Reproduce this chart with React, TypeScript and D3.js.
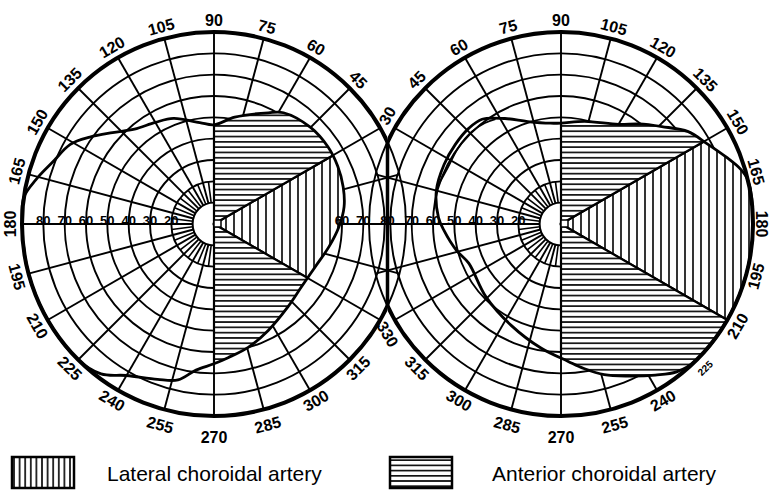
import React, { useEffect, useRef } from "react";
import * as d3 from "d3";

const W = 771;
const H = 490;

// visual field boundaries, [meridian deg, eccentricity deg]
const leftField: [number, number][] = [
  [172, 90], [166, 86], [159, 81], [151, 77], [145, 71], [138, 64], [130, 58],
  [120, 55], [111, 53], [98, 48], [90, 46.5], [79, 51], [64, 58], [58, 61.5],
  [45, 64], [34, 64.5], [25, 64], [16, 63], [7.5, 61.5], [-1.5, 58.5], [-11, 55],
  [-23, 51.5], [-36, 50.5], [-48, 52], [-63, 56], [-74.5, 60], [-84, 63],
  [-90, 65.5], [-97, 69], [-103, 75], [-110, 77.5], [-120, 82], [-127, 88],
  [-135, 90], [-150, 90], [-165, 90], [-180, 90],
];
const rightField: [number, number][] = [
  [3, 57.5], [15, 60.5], [27, 61.5], [37, 62], [46, 62.3], [53, 61.5], [62, 56],
  [72, 50.5], [84, 47.5], [90, 47.3], [103, 49.4], [120, 53.9], [128, 59.5],
  [136, 65.7], [144, 73.7], [151, 78], [158, 83.6], [163, 88], [167, 90],
  [180, 90], [195, 90], [210, 90], [225, 90], [232, 88], [238, 83.5], [246, 78],
  [254, 73.5], [261, 68.6], [267, 64.5], [279, 59], [296, 53], [316, 49],
  [337, 47], [346, 50.6], [357, 55],
];
const rightInner: [number, number][] = [
  [17, 60.5], [26, 59.3], [37, 60], [46, 60.2], [53, 59.3], [58, 58],
];

// sectors [from, to] in meridian degrees
const lateralLeft = [[-30, 30]];
const anteriorLeft = [[30, 90], [270, 330]];
const lateralRight = [[150, 210]];
const anteriorRight = [[90, 150], [210, 270]];

const rings = [10, 20, 30, 40, 50, 60, 70, 80];
const meridianLabels = [30, 45, 60, 75, 90, 105, 120, 135, 150, 165, 180, 195, 210, 225, 240, 255, 270, 285, 300, 315, 330];
const sharedLabels = [30, 330];
const ringLabelsOuter = [20, 30, 40, 50, 60, 70];
const ringLabelsInnerLeft = [60, 70];

const legendItems = [
  { label: "Lateral choroidal artery", pattern: "vhatchL", x: 12, tx: 107 },
  { label: "Anterior choroidal artery", pattern: "hhatchL", x: 390, tx: 492 },
];

const CY = 224;
const R = 192;
const CXL = 214;
const CXR = 561;
const FONT = "'Liberation Sans', Arial, sans-serif";

// per-label radial nudges, as placed in the original
const pushLeft = { 255: 4, 270: 9, 285: 4 };
const pushRight = { 255: 4, 270: 9, 285: 4, 165: -2, 180: -4, 195: -2 };

const App = () => {
  const svgRef = useRef<SVGSVGElement>(null);

  useEffect(() => {
    const svg = d3.select(svgRef.current);
    svg.selectAll("*").remove();

    const r = d3.scaleLinear().domain([0, 90]).range([0, R]);
    const half = (CXR - CXL) / 2;
    const xInt = CXL + half;
    const hInt = Math.sqrt(R * R - half * half);

    const defs = svg.append("defs");
    const pat = (id, w, h, vertical, sw) => {
      const p = defs.append("pattern").attr("id", id).attr("patternUnits", "userSpaceOnUse")
        .attr("width", w).attr("height", h);
      p.append("rect").attr("width", w).attr("height", h).attr("fill", "#fff");
      if (vertical) p.append("line").attr("x1", w / 2).attr("x2", w / 2).attr("y1", 0).attr("y2", h)
        .attr("stroke", "#000").attr("stroke-width", sw);
      else p.append("line").attr("x1", 0).attr("x2", w).attr("y1", h / 2).attr("y2", h / 2)
        .attr("stroke", "#000").attr("stroke-width", sw);
    };
    pat("vhatch", 8, 8, true, 1.6);
    pat("hhatch", 8, 5.3, false, 1.6);
    pat("vhatchL", 5.6, 8, true, 1.6);
    pat("hhatchL", 8, 5.2, false, 1.6);

    defs.append("clipPath").attr("id", "leftSide").append("rect")
      .attr("x", 0).attr("y", 0).attr("width", xInt).attr("height", H);
    defs.append("clipPath").attr("id", "rightSide").append("rect")
      .attr("x", xInt).attr("y", 0).attr("width", W - xInt).attr("height", H);

    const charts = [
      { id: "L", cx: CXL, mirror: false, field: leftField, inner: null, lat: lateralLeft, ant: anteriorLeft, push: pushLeft },
      { id: "R", cx: CXR, mirror: true, field: rightField, inner: rightInner, lat: lateralRight, ant: anteriorRight, push: pushRight },
    ];

    // full horizontal meridian
    svg.append("line").attr("x1", CXL - R).attr("x2", CXR + R).attr("y1", CY).attr("y2", CY)
      .attr("stroke", "#000").attr("stroke-width", 2);

    charts.forEach((c) => {
      const toA = (t) => ((c.mirror ? t - 90 : 90 - t) * Math.PI) / 180;
      const g = svg.append("g").attr("transform", `translate(${c.cx},${CY})`);

      // rings
      g.selectAll(".ring").data([...rings, 90]).join("circle")
        .attr("r", (d) => r(d)).attr("fill", "none").attr("stroke", "#000").attr("stroke-width", 1.9);

      // meridians
      g.selectAll(".sp").data(d3.range(0, 360, 15)).join("line")
        .each(function (d) {
          const [x1, y1] = d3.pointRadial(toA(d), r(10));
          const [x2, y2] = d3.pointRadial(toA(d), r(90));
          d3.select(this).attr("x1", x1).attr("y1", y1).attr("x2", x2).attr("y2", y2);
        })
        .attr("stroke", "#000").attr("stroke-width", 1.9);
      g.selectAll(".sp2").data(d3.range(7.5, 360, 15)).join("line")
        .each(function (d) {
          const [x1, y1] = d3.pointRadial(toA(d), r(10));
          const [x2, y2] = d3.pointRadial(toA(d), r(20));
          d3.select(this).attr("x1", x1).attr("y1", y1).attr("x2", x2).attr("y2", y2);
        })
        .attr("stroke", "#000").attr("stroke-width", 1.6);

      // central hole
      g.append("circle").attr("r", r(10)).attr("fill", "#fff").attr("stroke", "#000").attr("stroke-width", 1.9);

      // hatched sectors inside the field
      const line = d3.lineRadial<[number, number]>()
        .angle((d) => toA(d[0])).radius((d) => r(d[1]))
        .curve(d3.curveCatmullRomClosed.alpha(0.5));
      defs.append("clipPath").attr("id", "field" + c.id).append("path").attr("d", line(c.field));

      const arc = d3.arc().innerRadius(0).outerRadius(r(90));
      const hg = g.append("g").attr("clip-path", `url(#field${c.id})`);
      const sectors = [
        ...c.lat.map((s) => ({ s, p: "vhatch" })),
        ...c.ant.map((s) => ({ s, p: "hhatch" })),
      ];
      hg.selectAll("path").data(sectors).join("path")
        .attr("d", (d) => arc({ startAngle: toA(d.s[0]), endAngle: toA(d.s[1]) } as any))
        .attr("fill", (d) => `url(#${d.p})`).attr("stroke", "#000").attr("stroke-width", 2.2);

      // center mark
      g.append("rect").attr("x", 0).attr("y", -4).attr("width", 7).attr("height", 7)
        .attr("fill", "#fff").attr("stroke", "#000").attr("stroke-width", 1.5);

      // field boundary
      g.append("path").attr("d", line(c.field)).attr("fill", "none")
        .attr("stroke", "#000").attr("stroke-width", 2.8);
      if (c.inner) {
        const open = d3.lineRadial<[number, number]>()
          .angle((d) => toA(d[0])).radius((d) => r(d[1])).curve(d3.curveCatmullRom);
        g.append("path").attr("d", open(c.inner)).attr("fill", "none")
          .attr("stroke", "#000").attr("stroke-width", 1.8);
      }

      // thick outer border outside the overlap
      svg.append("circle").attr("cx", c.cx).attr("cy", CY).attr("r", R)
        .attr("fill", "none").attr("stroke", "#000").attr("stroke-width", 4)
        .attr("clip-path", c.mirror ? "url(#rightSide)" : "url(#leftSide)");

      // meridian labels
      const labs = meridianLabels.filter((d) => !sharedLabels.includes(d));
      g.selectAll(".ml").data(labs).join("text")
        .each(function (d) {
          const a = toA(d);
          const [x, y] = d3.pointRadial(a, R + 12 + (c.push[d] || 0));
          const phi = ((90 - (a * 180) / Math.PI) % 360 + 360) % 360;
          const rot = phi <= 180 ? 90 - phi : 270 - phi;
          d3.select(this).attr("transform", `translate(${x},${y}) rotate(${rot})`);
        })
        .attr("text-anchor", "middle").attr("dominant-baseline", "central")
        .style("font-family", FONT).style("font-weight", "bold")
        .style("font-size", (d) => (c.mirror && d === 225 ? "10px" : "16px"))
        .text((d) => d);

      // eccentricity labels along horizontal meridian
      g.selectAll(".rl").data(ringLabelsOuter).join("text")
        .attr("x", (d) => -r(d)).attr("y", 1)
        .attr("text-anchor", "middle")
        .style("font-family", FONT).style("font-weight", "bold")
        .style("font-size", "13px").text((d) => d);
      if (!c.mirror) {
        g.append("text").attr("x", -r(80)).attr("y", 1).attr("text-anchor", "middle")
          .style("font-family", FONT).style("font-weight", "bold")
          .style("font-size", "13px").text(80);
        g.selectAll(".rl2").data(ringLabelsInnerLeft).join("text")
          .attr("x", (d) => r(d)).attr("y", 1).attr("text-anchor", "middle")
          .style("font-family", FONT).style("font-weight", "bold")
          .style("font-size", "13px").text((d) => d);
      }
    });

    // junction between the two fields
    svg.append("line").attr("x1", xInt).attr("x2", xInt).attr("y1", CY - hInt).attr("y2", CY + hInt)
      .attr("stroke", "#000").attr("stroke-width", 3.5);
    svg.append("text").attr("x", xInt).attr("y", CY + 1).attr("text-anchor", "middle")
      .style("font-family", FONT).style("font-weight", "bold")
      .style("font-size", "13px").text(80);

    // shared meridian labels at the junction
    svg.selectAll(".shared").data(sharedLabels).join("text")
      .attr("transform", (d) => `translate(${xInt},${d < 180 ? CY - hInt - 26 : CY + hInt + 28}) rotate(${d < 180 ? -60 : 60})`)
      .attr("text-anchor", "middle").attr("dominant-baseline", "central")
      .style("font-family", FONT).style("font-weight", "bold").style("font-size", "16px")
      .text((d) => d);

    // legend
    const lg = svg.append("g");
    legendItems.forEach((d) => {
      lg.append("rect").attr("x", d.x).attr("y", 457).attr("width", 62).attr("height", 31)
        .attr("fill", `url(#${d.pattern})`).attr("stroke", "#000").attr("stroke-width", 2.5);
      lg.append("text").attr("x", d.tx).attr("y", 481)
        .style("font-family", FONT).style("font-size", "21px")
        .text(d.label);
    });
  }, []);

  return (
    <div>
      <svg ref={svgRef} width={W} height={H} style={{ position: "absolute", left: 0, top: 0, background: "#fff" }} />
    </div>
  );
};

export default App;
